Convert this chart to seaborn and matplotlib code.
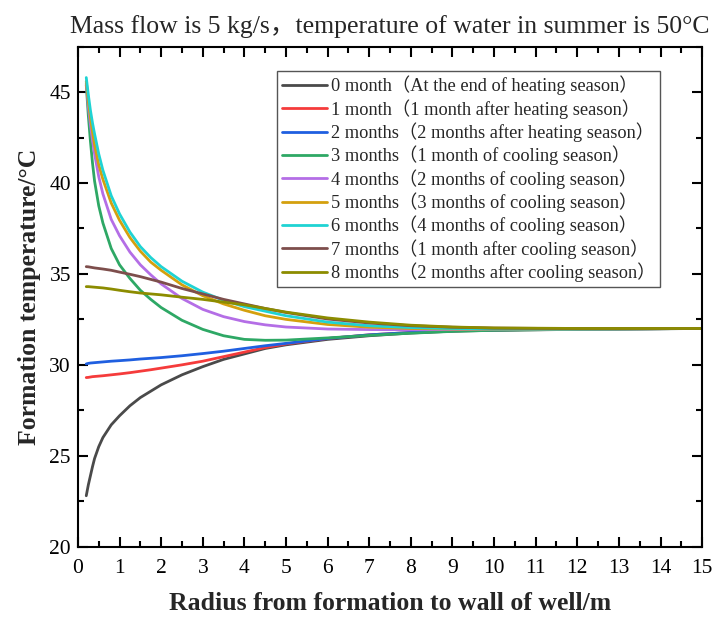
import numpy as np
import pandas as pd
import matplotlib
matplotlib.use("Agg")
import matplotlib.pyplot as plt
import seaborn as sns
from matplotlib.ticker import MultipleLocator
from matplotlib.lines import Line2D

radius = [0.2, 0.25, 0.3, 0.35, 0.4, 0.5, 0.6, 0.8, 1.0, 1.25, 1.5, 1.75, 2.0, 2.5, 3.0, 3.5,
          4.0, 4.5, 5, 6, 7, 8, 9, 10, 12, 15]

m0 = [22.8, 23.4, 23.9, 24.4, 24.85, 25.5, 26.0, 26.7, 27.2, 27.75, 28.2, 28.55, 28.9, 29.45, 29.9, 30.3,
      30.6, 30.9, 31.1, 31.4, 31.6, 31.75, 31.85, 31.9, 31.95, 32.0]
m1 = [29.3, 29.31, 29.33, 29.35, 29.36, 29.38, 29.4, 29.45, 29.5, 29.57, 29.65, 29.73, 29.82, 30.0, 30.2, 30.45,
      30.7, 30.95, 31.15, 31.45, 31.65, 31.78, 31.87, 31.92, 31.97, 32.0]
m2 = [30.05, 30.08, 30.1, 30.11, 30.12, 30.14, 30.16, 30.2, 30.23, 30.27, 30.32, 30.36, 30.4, 30.5, 30.62, 30.75,
      30.9, 31.05, 31.18, 31.45, 31.65, 31.78, 31.87, 31.92, 31.97, 32.0]
m3 = [45.4, 43.7, 42.3, 41.1, 40.1, 38.75, 37.8, 36.4, 35.5, 34.75, 34.1, 33.6, 33.15, 32.45, 31.95, 31.6,
      31.4, 31.35, 31.36, 31.48, 31.62, 31.74, 31.84, 31.9, 31.96, 32.0]
m4 = [45.5, 44.2, 43.2, 42.35, 41.6, 40.35, 39.4, 38.0, 37.1, 36.2, 35.5, 34.95, 34.45, 33.65, 33.05, 32.65,
      32.38, 32.2, 32.08, 31.97, 31.94, 31.93, 31.94, 31.95, 31.97, 32.0]
m5 = [45.6, 44.5, 43.6, 42.8, 42.1, 41.0, 40.2, 38.9, 37.95, 37.0, 36.25, 35.65, 35.2, 34.4, 33.8, 33.35,
      33.0, 32.7, 32.5, 32.22, 32.07, 32.0, 31.97, 31.96, 31.97, 32.0]
m6 = [45.8, 44.85, 44.0, 43.3, 42.7, 41.6, 40.7, 39.3, 38.3, 37.3, 36.5, 35.9, 35.4, 34.6, 34.0, 33.55,
      33.2, 32.95, 32.7, 32.35, 32.15, 32.05, 32.0, 31.97, 31.97, 32.0]
m7 = [35.4, 35.39, 35.37, 35.35, 35.33, 35.3, 35.27, 35.2, 35.1, 34.98, 34.85, 34.7, 34.55, 34.2, 33.9, 33.6,
      33.35, 33.1, 32.88, 32.52, 32.3, 32.15, 32.07, 32.02, 31.99, 32.0]
m8 = [34.3, 34.3, 34.29, 34.28, 34.27, 34.25, 34.23, 34.17, 34.1, 34.02, 33.95, 33.9, 33.85, 33.72, 33.6, 33.45,
      33.3, 33.1, 32.9, 32.58, 32.35, 32.18, 32.08, 32.03, 32.0, 32.0]

labels = [
    "0 month（At the end of heating season）",
    "1 month（1 month after heating season）",
    "2 months（2 months after heating season）",
    "3 months（1 month of cooling season）",
    "4 months（2 months of cooling season）",
    "5 months（3 months of cooling season）",
    "6 months（4 months of cooling season）",
    "7 months（1 month after cooling season）",
    "8 months（2 months after cooling season）",
]
series = [m0, m1, m2, m3, m4, m5, m6, m7, m8]
colors = ["#4a4a4a", "#f53b3b", "#1f5fe0", "#2ea865", "#b46ee6",
          "#d4a00e", "#1fd3d3", "#7d4e4c", "#8c8c00"]

frames = []
for lab, vals in zip(labels, series):
    frames.append(pd.DataFrame({"r": radius, "T": vals, "case": lab}))
df = pd.concat(frames, ignore_index=True)

sns.set_theme(style="ticks")
fams = ["Liberation Serif", "Noto Sans CJK SC", "DejaVu Sans"]
plt.rcParams["font.family"] = fams
plt.rcParams["axes.unicode_minus"] = False

fig = plt.figure(figsize=(7.15, 6.21), dpi=100)
ax = fig.add_axes([0.109, 0.1197, 0.873, 0.8052])

sns.lineplot(data=df, x="r", y="T", hue="case", hue_order=labels,
             palette=dict(zip(labels, colors)), linewidth=2.0, ax=ax,
             legend=False, estimator=None, sort=False)

ax.set_xlim(0, 15)
ax.set_ylim(20, 47.5)
ax.xaxis.set_major_locator(MultipleLocator(1))
ax.xaxis.set_minor_locator(MultipleLocator(0.5))
ax.yaxis.set_major_locator(MultipleLocator(5))
ax.yaxis.set_minor_locator(MultipleLocator(2.5))
ax.tick_params(which="both", direction="in", top=True, right=True, width=1.5,
               labelsize=15.5, colors="black")
ax.tick_params(which="major", length=7)
ax.tick_params(which="minor", length=4)
ax.tick_params(axis="x", pad=9)
ax.tick_params(axis="y", pad=5)
for sp in ax.spines.values():
    sp.set_linewidth(1.5)
    sp.set_color("black")

ax.set_xlabel("Radius from formation to wall of well/m", fontsize=18.5,
              fontweight="bold", labelpad=10)
ax.set_ylabel("Formation temperature/°C", fontsize=18.5, fontweight="bold", labelpad=6)
ax.set_title("Mass flow is 5 kg/s，temperature of water in summer is 50°C",
             fontsize=18.5, pad=10)

handles = [Line2D([0], [0], color=c, lw=2.0) for c in colors]
leg = ax.legend(handles, labels, loc="upper left", bbox_to_anchor=(0.319, 0.951),
                fontsize=13.2, frameon=True, fancybox=False, edgecolor="#555555",
                framealpha=1, handlelength=2.5, handletextpad=0.2,
                labelspacing=0.2, borderpad=0.25, borderaxespad=0)
leg.get_frame().set_linewidth(1.0)

fig.savefig("out.png", dpi=100)
